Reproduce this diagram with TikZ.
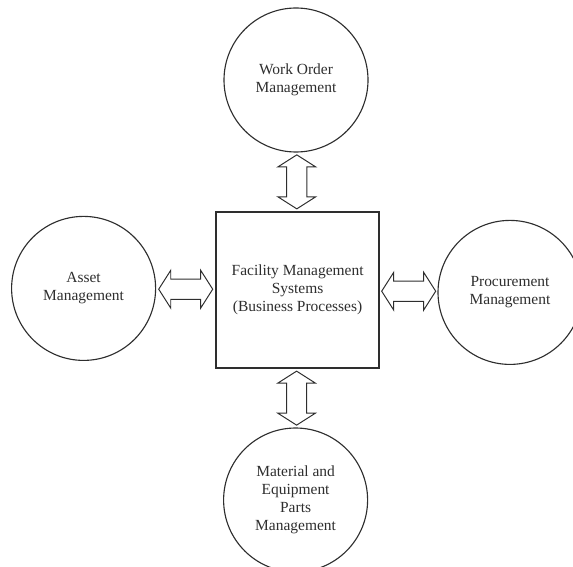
\documentclass[tikz,border=0pt]{standalone}
\usepackage{fontspec}
\setmainfont{Liberation Serif}
\usetikzlibrary{shapes.arrows,calc}
\definecolor{ink}{HTML}{2E2E2E}

\begin{document}
\begin{tikzpicture}[font=\fontsize{11}{12.8}\selectfont,text=ink,
  procircle/.style={circle,draw=ink,line width=.8pt,minimum size=3.6cm,
    inner sep=0pt,align=center},
  sysbox/.style={rectangle,draw=ink,line width=1.2pt,minimum width=4.075cm,
    minimum height=3.9cm,align=center},
  linkarrow/.style={double arrow,draw=ink,line width=.7pt,inner xsep=0pt,
    inner ysep=.24cm,minimum height=1.35cm,double arrow head extend=.22cm,
    double arrow tip angle=115,double arrow head indent=0pt}]
  \useasboundingbox (0,0) rectangle (14.325,-14.15);
  \clip (0,0) rectangle (14.325,-14.15);

  \node[sysbox] (fms) at (7.44,-7.25)
    {Facility Management\\Systems\\(Business Processes)};
  \node[procircle] (wo) at (7.4,-2.0) {Work Order\\Management};
  \node[procircle] (asset) at (2.09,-7.21) {Asset\\Management};
  \node[procircle] (proc) at (12.75,-7.31) {Procurement\\Management};
  \node[procircle] (mat) at (7.39,-12.5)
    {Material and\\Equipment\\Parts\\Management};

  % links to the central system
  \node[linkarrow,rotate=90] (a1) at ($(wo.south)!.5!(fms.north)$) {};
  \node[linkarrow] (a2) at ($(asset.east)!.5!(fms.west)$) {};
  \node[linkarrow] (a3) at ($(fms.east)!.5!(proc.west)$) {};
  \node[linkarrow,rotate=90] (a4) at ($(fms.south)!.5!(mat.north)$) {};
\end{tikzpicture}
\end{document}
